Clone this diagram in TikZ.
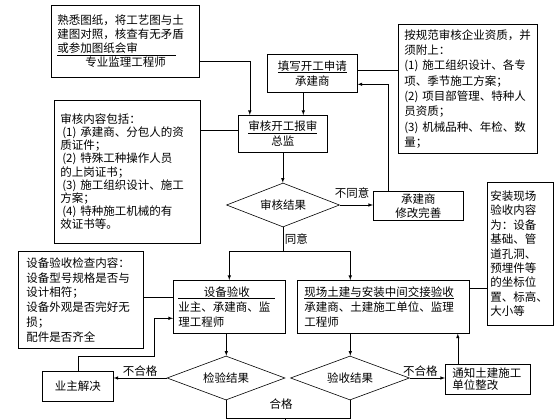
\documentclass[tikz,border=0pt]{standalone}
\usepackage{fontspec}
\newfontfamily\cjk{Noto Sans CJK SC}
\usepackage{tikz}
\usetikzlibrary{arrows}
\usetikzlibrary{shapes.geometric}
\newcommand{\cjkSize}[1]{\cjk\fontsize{11.5}{#1}\selectfont}

\begin{document}
\begin{tikzpicture}[x=1pt, y=-1pt, >=latex, line width=0.6pt,
		every node/.style={font=\cjkSize{14}},
		notebox/.style={draw, anchor=north west, align=left, inner xsep=6pt, inner ysep=2pt},
		stepbox/.style={draw, anchor=north west, align=center, inner sep=2pt},
		decision/.style={draw, diamond, aspect=2.7, inner sep=0pt, minimum width=118pt, minimum height=44pt},
		tag/.style={inner sep=1.5pt}]
		\path[use as bounding box, fill=white] (0,0) rectangle (560,420);

		% notes and steps
		\node[notebox, text width=136pt, minimum height=72pt] (A) at (51,5)
			{熟悉图纸，将工艺图与土\\建图对照，核查有无矛盾\\\underline{或参加图纸会审\hspace{38pt}}\\\hspace*{28pt}专业监理工程师};
		\node[stepbox, minimum width=90pt, minimum height=38pt, font=\cjkSize{15}] (B) at (267,54)
			{\underline{填写开工申请}\\承建商};
		\node[notebox, text width=127pt, minimum height=129pt, font=\cjkSize{15.3}] (C) at (398,24)
			{按规范审核企业资质，并\\须附上：\\(1) 施工组织设计、各专\\项、季节施工方案；\\(2) 项目部管理、特种人\\员资质；\\(3) 机械品种、年检、数\\量；};
		\node[stepbox, minimum width=89pt, minimum height=37pt, font=\cjkSize{15}] (D) at (238,115)
			{\underline{审核开工报审}\\总监};
		\node[notebox, text width=134pt, minimum height=143pt, font=\cjkSize{13.2}] (E) at (54,100)
			{审核内容包括：\\\hspace*{2pt}(1) 承建商、分包人的资\\质证件；\\\hspace*{2pt}(2) 特殊工种操作人员\\的上岗证书；\\\hspace*{2pt}(3) 施工组织设计、施工\\方案；\\\hspace*{2pt}(4) 特种施工机械的有\\效证书等。};
		\node[decision, minimum width=113pt] (F) at (283,205) {审核结果};
		\node[stepbox, minimum width=90pt, minimum height=29pt] (G) at (373,191)
			{承建商\\修改完善};
		\node[notebox, inner xsep=3pt, text width=60pt, minimum height=143pt, font=\cjkSize{14.4}] (H) at (487,182)
			{安装现场\\验收内容\\为：设备\\基础、管\\道孔洞、\\预埋件等\\的坐标位\\置、标高、\\大小等};
		\node[notebox, inner xsep=5pt, text width=102pt, minimum height=53pt, font=\cjkSize{15}] (I) at (173,280)
			{\underline{\makebox[97pt]{设备验收}}\\业主、承建商、监\\理工程师};
		\node[notebox, inner xsep=7pt, text width=158pt, minimum height=53pt, font=\cjkSize{15}] (J) at (297,280)
			{\underline{现场土建与安装中间交接验收}\\承建商、土建施工单位、监理\\工程师};
		\node[notebox, inner xsep=8pt, text width=109pt, minimum height=97pt, font=\cjkSize{14.8}] (K) at (18,251)
			{设备验收检查内容：\\设备型号规格是否与\\设计相符；\\设备外观是否完好无\\损；\\配件是否齐全};
		\node[decision] (L) at (226,378) {检验结果};
		\node[decision, minimum width=119pt] (M) at (350,378) {验收结果};
		\node[stepbox, minimum width=71pt, minimum height=30pt] (N) at (42,371) {业主解决};
		\node[notebox, inner xsep=7pt, text width=71pt, minimum height=30pt, font=\cjkSize{12}] (O) at (445,364)
			{通知土建施工\\单位整改};

		% links
		\draw[->] ([yshift=-20pt]A.east) -| ([xshift=-33pt]D.north);
		\draw[->] ([xshift=-9pt]B.south) -- ([xshift=-9pt]B.south |- D.north);
		\draw ([yshift=3pt]B.east) -- ([yshift=3pt]B.east -| C.west);
		\draw ([yshift=4pt]D.west) -- ([yshift=4pt]D.west -| E.east);
		\draw[->] (D.south) -- (D.south |- F.north);
		\draw[->] (F.east) -- (F.east -| G.west);
		\node[tag] (refuse) at (352,193) {不同意};
		\draw[->] ([xshift=-30pt]G.north) |- ([yshift=-11pt]B.east);
		\draw (F.south) -- node[tag, right] (agree) {同意} ++(0,24) coordinate (split);
		\draw[->] (split) -| (I.north);
		\draw[->] (split) -| ([xshift=-33pt]J.north);
		\draw ([yshift=19pt]J.east) -- ([yshift=19pt]J.east -| H.west);
		\draw ([yshift=10pt]I.west) -- ([yshift=10pt]I.west -| K.east);
		\draw[->] ([xshift=-3pt]I.south) -- ([xshift=-3pt]I.south |- L.north);
		\draw[->] ([xshift=-33pt]J.south) -- ([xshift=-33pt]J.south |- M.north);
		\draw[->] (L.west) -- node[tag, above] (failL) {不合格} (L.west -| N.east);
		\draw[->] (N.north) -- ++(0,-15) -| ([xshift=-19pt, yshift=-11.5pt]I.west) -- ([yshift=-11.5pt]I.west);
		\draw[->] (M.east) -- node[tag, above, pos=0.3] (failM) {不合格} (M.east -| O.west);
		\draw[->] ([xshift=-30pt]O.north) -- ([xshift=-30pt]O.north |- J.south);
		\draw (L.south) -- ++(0,18) -| (M.south);
		\coordinate (pass) at (285,418);
		\draw (pass) -- ++(0,10);
		\node (ok) at (281,404) {合格};
	\end{tikzpicture}
\end{document}
